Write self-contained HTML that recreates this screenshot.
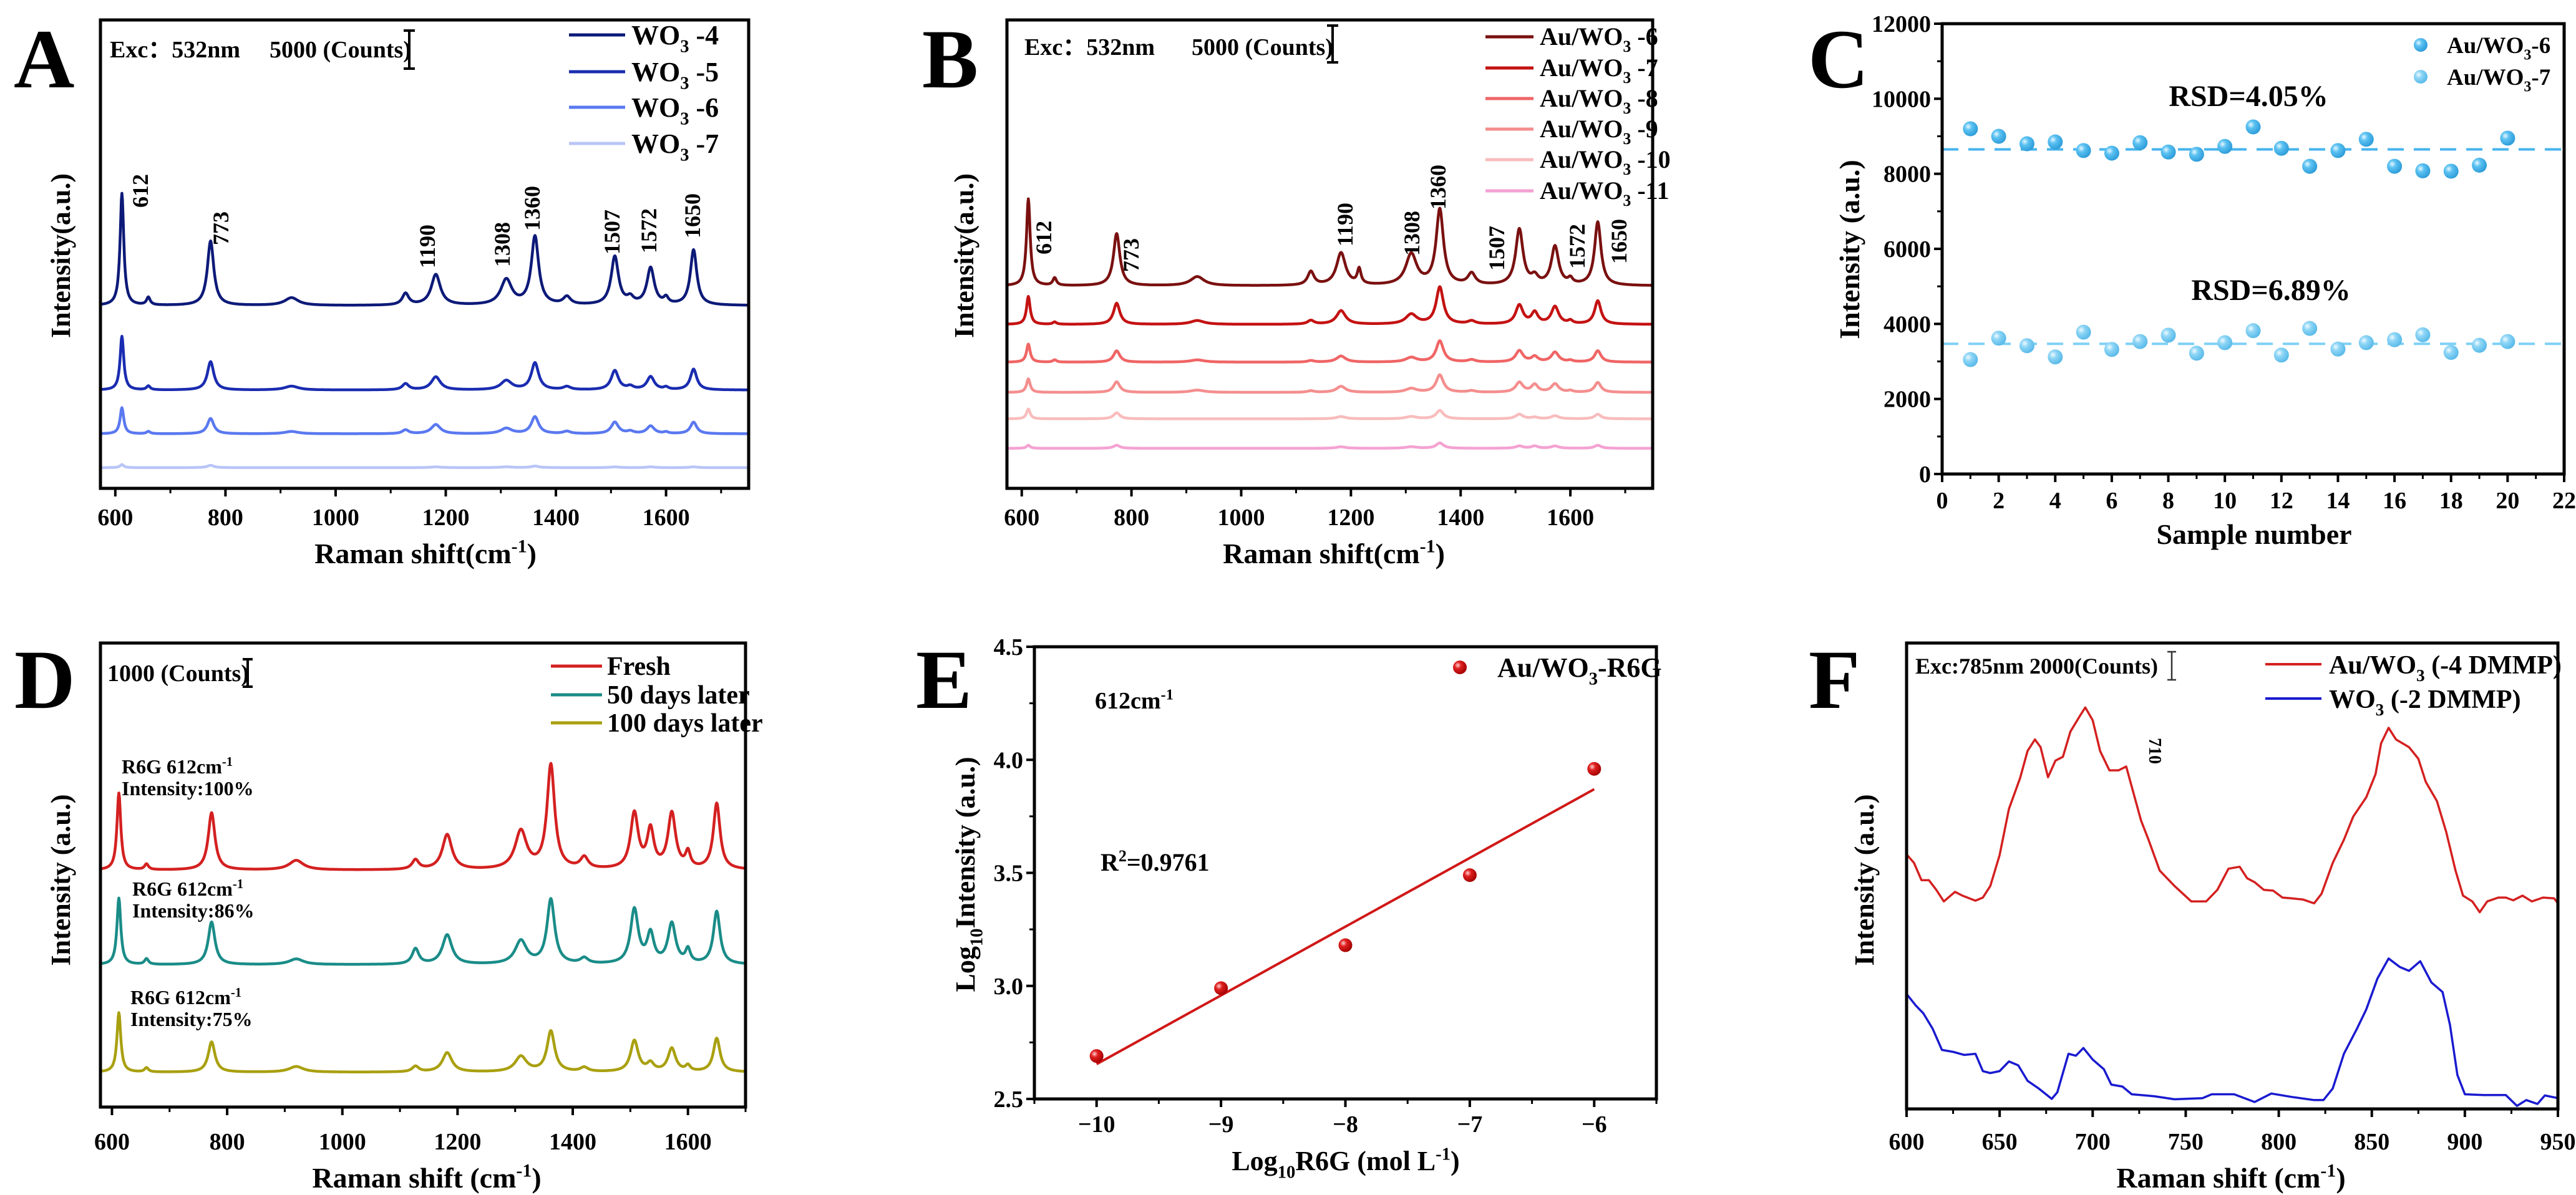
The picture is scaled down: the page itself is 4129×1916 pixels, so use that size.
<!DOCTYPE html>
<html><head><meta charset="utf-8"><style>
html,body{margin:0;padding:0;background:#fff;}
svg{display:block;font-family:"Liberation Serif",serif;font-weight:bold;}
</style></head><body>
<svg id="fig" width="4129" height="1916" viewBox="0 0 4129 1916" xmlns="http://www.w3.org/2000/svg">
<defs>
<radialGradient id="gBlue" cx="0.35" cy="0.35" r="0.7"><stop offset="0" stop-color="#e8f8ff"/><stop offset="0.35" stop-color="#5cc2f2"/><stop offset="1" stop-color="#2a9ad8"/></radialGradient>
<radialGradient id="gBlue2" cx="0.35" cy="0.35" r="0.7"><stop offset="0" stop-color="#f0fbff"/><stop offset="0.35" stop-color="#8fd6f6"/><stop offset="1" stop-color="#55b8e8"/></radialGradient>
<radialGradient id="gRed" cx="0.35" cy="0.35" r="0.7"><stop offset="0" stop-color="#ffd0d0"/><stop offset="0.35" stop-color="#e02020"/><stop offset="1" stop-color="#a00000"/></radialGradient>
</defs>
</svg>
<script>
// ---------- DATA ----------
const peakPos = [612,660,773,920,1127,1182,1215,1310,1362,1420,1507,1535,1572,1600,1650];
const peakWidth = [4,4,7,15,7,10,4,12,8,8,8,7,8,5,7];
// Panel A
const aNames = ['WO3 -4','WO3 -5','WO3 -6','WO3 -7'];
const aBase = [23800,12800,7100,2700];
const aAmp4 = [14600,1000,8400,1000,1500,4000,0,3300,8900,1000,6300,800,4800,800,7200];
const aAmp5 = [7000,500,3700,500,800,1700,0,1200,3500,400,2500,400,1700,300,2700];
const aAmp6 = [3400,300,2000,300,500,1200,0,700,2200,300,1500,300,1000,200,1500];
const aAmp7 = [400,0,300,0,0,100,0,100,200,0,100,0,100,0,100];
// Panel B
const bBase = [26800,21700,16700,12700,9200,5300];
const bAmp6 = [11500,1000,6900,1200,1800,4300,2000,4100,10000,1500,7400,1000,5100,700,8400];
const bAmp7 = [3700,300,2800,500,500,1800,0,1300,4900,400,2500,1500,2300,400,3100];
const bAmp8 = [2400,300,1500,300,200,800,0,600,2800,300,1500,700,1300,200,1500];
const bAmp9 = [1800,0,1400,300,200,800,0,500,2300,200,1300,1000,1100,200,1300];
const bAmp10 = [1300,0,800,0,0,300,0,300,1100,0,600,200,400,0,600];
const bAmp11 = [400,0,400,0,0,200,0,200,700,0,300,300,300,0,400];
// Panel C
const cSamples = [1,2,3,4,5,6,7,8,9,10,11,12,13,14,15,16,17,18,19,20];
const cSeries6 = [9200,9000,8800,8850,8620,8550,8830,8580,8520,8730,9250,8680,8200,8620,8920,8200,8080,8070,8230,8950];
const cSeries7 = [3050,3620,3420,3120,3780,3320,3530,3700,3220,3500,3820,3170,3880,3330,3500,3580,3710,3240,3430,3530];
const cMean = [8650,3470];
// Panel D
const dBase = [8440,5070,1240];
const dFresh = [2740,200,2040,340,340,1250,0,1360,3710,400,1980,1360,1980,550,2350];
const d50 = [2370,200,1520,200,550,1050,0,830,2300,200,1940,1040,1430,480,1880];
const d100 = [2120,150,1080,200,200,690,0,550,1450,150,1110,280,830,200,1200];
// Panel E
const eX = [-10,-9,-8,-7,-6];
const eY = [2.69,2.99,3.18,3.49,3.96];
// Panel F
const fRedX = [600,604,608,612,616,620,626,630,637,641,645,650,655,661,665,669,672,676,680,684,688,693,696,700,704,709,714,718,722,726,730,736,744,753,761,767,773,779,783,787,792,797,802,807,813,819,823,829,835,840,847,852,855,859,863,870,875,879,885,890,895,899,904,908,912,918,922,926,931,936,942,948,950];
const fRedY = [660,638,593,593,568,538,563,553,540,548,578,658,778,858,928,958,938,860,903,913,978,1018,1041,1008,928,878,878,888,818,748,698,618,578,538,538,568,623,628,598,588,568,566,548,546,543,533,558,638,698,758,808,868,948,988,958,938,908,848,798,718,618,553,538,510,538,548,548,541,553,538,548,546,533];
const fBlueX = [600,605,609,614,619,625,631,637,641,645,650,655,660,665,671,678,681,687,691,695,700,706,710,716,721,733,744,759,764,776,787,796,807,819,824,829,835,842,847,853,859,865,870,876,882,888,892,896,900,910,922,928,933,939,943,950];
const fBlueY = [298,268,248,208,153,148,140,143,98,93,98,123,113,73,53,26,43,143,138,158,128,103,63,58,38,33,25,28,38,38,18,40,31,23,23,53,143,208,258,338,390,368,358,383,328,303,218,88,38,36,36,8,23,13,35,28];

// ---------- HELPERS ----------
const NS='http://www.w3.org/2000/svg';
const svg=document.getElementById('fig');
function el(tag, attrs, parent, text){
  const e=document.createElementNS(NS,tag);
  for(const k in attrs) e.setAttribute(k,attrs[k]);
  if(text!=null) e.textContent=text;
  (parent||svg).appendChild(e);
  return e;
}
function rich(parent,x,y,parts,size,anchor,rot){
  const attrs={x:x,y:y,'font-size':size,'text-anchor':anchor||'start'};
  if(rot) attrs.transform='rotate('+rot+' '+x+' '+y+')';
  const t=el('text',attrs,parent);
  let off=0;
  parts.forEach(p=>{
    let target=0, fs=size;
    if(p[1]==='sub'){target=size*0.28;fs=size*0.65;}
    if(p[1]==='sup'){target=-size*0.38;fs=size*0.65;}
    el('tspan',{dy:(target-off),'font-size':fs},t,p[0]);
    off=target;
  });
  return t;
}
function scaleLin(d0,d1,r0,r1){return v=>r0+(v-d0)/(d1-d0)*(r1-r0);}
function lorentz(x,base,amps){
  let y=base;
  for(let i=0;i<peakPos.length;i++){const w=peakWidth[i];y+=amps[i]*w*w/((x-peakPos[i])*(x-peakPos[i])+w*w);}
  return y;
}
function box(g,b){
  const r=el('rect',{x:b.l,y:b.t,width:b.r-b.l,height:b.b-b.t,fill:'none',stroke:'#000','stroke-width':5},g);
  
  
}
function xTicks(g,b,sx,majors,minors,labelY,fmt){
  majors.forEach(v=>{
    const x=sx(v);
    el('line',{x1:x,x2:x,y1:b.b,y2:b.b+13,stroke:'#000','stroke-width':4},g);
    const t=el('text',{x:x,y:labelY,'font-size':38,'text-anchor':'middle'},g,fmt?fmt(v):String(v));
    
    
  });
  minors.forEach(v=>{const x=sx(v);el('line',{x1:x,x2:x,y1:b.b,y2:b.b+8,stroke:'#000','stroke-width':3},g);});
}
function yTicks(g,b,sy,majors,minors,fmt){
  majors.forEach(v=>{
    const y=sy(v);
    el('line',{x1:b.l-13,x2:b.l,y1:y,y2:y,stroke:'#000','stroke-width':4},g);
    const t=el('text',{x:b.l-18,y:y+13,'font-size':38,'text-anchor':'end'},g,fmt?fmt(v):String(v));
    
    
  });
  minors.forEach(v=>{const y=sy(v);el('line',{x1:b.l-8,x2:b.l,y1:y,y2:y,stroke:'#000','stroke-width':3},g);});
}
function pathFrom(xs,ys,sx,sy){
  let d='';
  for(let i=0;i<xs.length;i++){d+=(i?'L':'M')+sx(xs[i]).toFixed(1)+' '+sy(ys[i]).toFixed(1);}
  return d;
}
function specPath(sx,sy,xmin,xmax,base,amps){
  const xs=[],ys=[];
  for(let x=xmin;x<=xmax;x+=1){xs.push(x);ys.push(lorentz(x,base,amps));}
  return pathFrom(xs,ys,sx,sy);
}
function letter(x,y,ch){
  const t=el('text',{x:x,y:y,'font-size':135},svg,ch);
  
  
}
function range(a,b,s){const r=[];for(let v=a;v<=b+1e-9;v+=s)r.push(Math.round(v*100)/100);return r;}

// ---------- PANEL A ----------
(function(){
  const b={l:161,r:1200,t:32,b:783};
  const g=el('g',{});
  
  
  const sx=scaleLin(573,1750,b.l,b.r), sy=scaleLin(0,61000,b.b,b.t);
  const colors=['#0d1a78','#1a2cb0','#5a78f0','#b9c5f6'];
  const amps=[aAmp4,aAmp5,aAmp6,aAmp7];
  amps.forEach((a,i)=>{
    const p=el('path',{d:specPath(sx,sy,575,1748,aBase[i],a),fill:'none',stroke:colors[i],'stroke-width':4.5,'stroke-linejoin':'round'},g);
    
    
  });
  box(g,b);
  xTicks(g,b,sx,range(600,1600,200),range(700,1700,200),842);
  const yt=rich(g,112,410,[['Intensity(a.u.)','n']],44,'middle',-90);
  
  
  const xt=rich(g,682,903,[['Raman shift(cm','n'],['-1','sup'],[')','n']],46,'middle');
  
  
  el('text',{x:176,y:92,'font-size':38},g,'Exc：532nm');
  el('text',{x:432,y:92,'font-size':38},g,'5000 (Counts)');
  el('path',{d:'M656 49V110M647 49H665M647 110H665',stroke:'#000','stroke-width':4,fill:'none'},g);
  const ly=[56,115,172,230];
  aNames.forEach((n,i)=>{
    const ln=el('line',{x1:912,x2:1002,y1:ly[i],y2:ly[i],stroke:colors[i],'stroke-width':5},g);
    
    
    const t=rich(g,1012,ly[i]+15,[['WO','n'],['3','sub'],[' -'+n.split('-')[1],'n']],44,'start');
    
    
  });
  const ann=[['612',237,306],['773',366,366],['1190',697,395],['1308',817,392],['1360',865,334],['1507',993,372],['1572',1052,370],['1650',1122,346]];
  ann.forEach(a=>{const t=el('text',{x:a[1],y:a[2],'font-size':36,'text-anchor':'middle',transform:'rotate(-90 '+a[1]+' '+a[2]+')'},g,a[0]);
    
    });
  letter(22,140,'A');
})();

// ---------- PANEL B ----------
(function(){
  const b={l:1614,r:2649,t:32,b:783};
  const g=el('g',{});
  
  
  const sx=scaleLin(573,1750,b.l,b.r), sy=scaleLin(0,62000,b.b,b.t);
  const colors=['#7a1010','#c41212','#f06565','#f48e8e','#f8bcbc','#f4a2d2'];
  const amps=[bAmp6,bAmp7,bAmp8,bAmp9,bAmp10,bAmp11];
  const names=['-6','-7','-8','-9','-10','-11'];
  amps.forEach((a,i)=>{
    const p=el('path',{d:specPath(sx,sy,575,1748,bBase[i],a),fill:'none',stroke:colors[i],'stroke-width':4.5,'stroke-linejoin':'round'},g);
    
    
  });
  box(g,b);
  xTicks(g,b,sx,range(600,1600,200),range(700,1700,200),842);
  const yt=rich(g,1560,410,[['Intensity(a.u.)','n']],44,'middle',-90);
  
  
  const xt=rich(g,2138,903,[['Raman shift(cm','n'],['-1','sup'],[')','n']],46,'middle');
  
  
  el('text',{x:1642,y:88,'font-size':38},g,'Exc：532nm');
  el('text',{x:1910,y:88,'font-size':38},g,'5000 (Counts)');
  el('path',{d:'M2136 41V100M2127 41H2145M2127 100H2145',stroke:'#000','stroke-width':4,fill:'none'},g);
  const ly=[59,109,158,207,256,306];
  names.forEach((n,i)=>{
    const ln=el('line',{x1:2381,x2:2458,y1:ly[i],y2:ly[i],stroke:colors[i],'stroke-width':5},g);
    
    
    const t=rich(g,2468,ly[i]+13,[['Au/WO','n'],['3','sub'],[' '+n,'n']],40,'start');
    
    
  });
  const ann=[['612',1685,381],['773',1825,409],['1190',2168,360],['1308',2275,374],['1360',2317,300],['1507',2411,398],['1572',2540,395],['1650',2607,387]];
  ann.forEach(a=>{const t=el('text',{x:a[1],y:a[2],'font-size':36,'text-anchor':'middle',transform:'rotate(-90 '+a[1]+' '+a[2]+')'},g,a[0]);
    
    });
  letter(1478,140,'B');
})();

// ---------- PANEL C ----------
(function(){
  const b={l:3113,r:4110,t:38,b:760};
  const g=el('g',{});
  
  
  const sx=scaleLin(0,22,b.l,b.r), sy=scaleLin(0,12000,b.b,b.t);
  cMean.forEach((m,i)=>{
    const l=el('line',{x1:b.l,x2:b.r,y1:sy(m),y2:sy(m),stroke:i?'#7fd0f5':'#45b4ee','stroke-width':4,'stroke-dasharray':'26 16'},g);
    
    
  });
  cSamples.forEach((s,i)=>{
    const c1=el('circle',{cx:sx(s),cy:sy(cSeries6[i]),r:12,fill:'url(#gBlue)'},g);
    
    
    const c2=el('circle',{cx:sx(s),cy:sy(cSeries7[i]),r:12,fill:'url(#gBlue2)'},g);
    
    
  });
  box(g,b);
  xTicks(g,b,sx,range(0,22,2),range(1,21,2),815);
  yTicks(g,b,sy,range(0,12000,2000),range(1000,11000,2000));
  const yt=rich(g,2980,400,[['Intensity (a.u.)','n']],46,'middle',-90);
  
  
  const xt=rich(g,3613,872,[['Sample number','n']],46,'middle');
  
  
  const r1=el('text',{x:3604,y:170,'font-size':48,'text-anchor':'middle'},g,'RSD=4.05%');
  
  
  const r2=el('text',{x:3640,y:481,'font-size':48,'text-anchor':'middle'},g,'RSD=6.89%');
  
  
  [['6','url(#gBlue)',72],['7','url(#gBlue2)',123]].forEach(e=>{
    const c=el('circle',{cx:3880,cy:e[2],r:11,fill:e[1]},g);
    
    
    const t=rich(g,3922,e[2]+13,[['Au/WO','n'],['3','sub'],['-'+e[0],'n']],37,'start');
    
    
  });
  letter(2898,140,'C');
})();

// ---------- PANEL D ----------
(function(){
  const b={l:161,r:1195,t:1031,b:1775};
  const g=el('g',{});
  
  
  const sx=scaleLin(580,1700,b.l,b.r), sy=scaleLin(0,16530,b.b,b.t);
  const colors=['#d42020','#1a8c88','#a9a010'];
  const names=['fresh','50-days','100-days'];
  [dFresh,d50,d100].forEach((a,i)=>{
    const p=el('path',{d:specPath(sx,sy,582,1698,dBase[i],a),fill:'none',stroke:colors[i],'stroke-width':4.5,'stroke-linejoin':'round'},g);
    
    
  });
  box(g,b);
  xTicks(g,b,sx,range(600,1600,200),range(700,1700,200),1843);
  const yt=rich(g,112,1411,[['Intensity (a.u.)','n']],44,'middle',-90);
  
  
  const xt=rich(g,684,1904,[['Raman shift (cm','n'],['-1','sup'],[')','n']],46,'middle');
  
  
  el('text',{x:172,y:1092,'font-size':38},g,'1000 (Counts)');
  el('path',{d:'M397 1057V1101M389 1057H405M389 1101H405',stroke:'#000','stroke-width':4,fill:'none'},g);
  const ly=[1068,1114,1159], lt=['Fresh','50 days later','100 days later'];
  lt.forEach((n,i)=>{
    const ln=el('line',{x1:883,x2:965,y1:ly[i],y2:ly[i],stroke:colors[i],'stroke-width':5},g);
    
    
    const t=el('text',{x:973,y:ly[i]+14,'font-size':42},g,n);
    
    
  });
  [[195,1240,'100%'],[212,1436,'86%'],[209,1610,'75%']].forEach(a=>{
    const t1=rich(g,a[0],a[1],[['R6G 612cm','n'],['-1','sup']],32,'start');
    
    
    const t2=el('text',{x:a[0],y:a[1]+35,'font-size':32},g,'Intensity:'+a[2]);
    
    
  });
  letter(23,1135,'D');
})();

// ---------- PANEL E ----------
(function(){
  const b={l:1658,r:2655,t:1037,b:1762};
  const g=el('g',{});
  
  
  const sx=scaleLin(-10.5,-5.5,b.l,b.r), sy=scaleLin(2.5,4.5,b.b,b.t);
  const n=eX.length, mx=eX.reduce((a,v)=>a+v,0)/n, my=eY.reduce((a,v)=>a+v,0)/n;
  let sxy=0,sxx=0; for(let i=0;i<n;i++){sxy+=(eX[i]-mx)*(eY[i]-my);sxx+=(eX[i]-mx)*(eX[i]-mx);}
  const k=sxy/sxx, c0=my-k*mx;
  const x0=eX[0], x1=eX[n-1];
  const fit=el('line',{x1:sx(x0),y1:sy(k*x0+c0),x2:sx(x1),y2:sy(k*x1+c0),stroke:'#d01818','stroke-width':4},g);
  
  
  eX.forEach((x,i)=>{
    const c=el('circle',{cx:sx(x),cy:sy(eY[i]),r:11,fill:'url(#gRed)'},g);
    
    
  });
  box(g,b);
  xTicks(g,b,sx,[-10,-9,-8,-7,-6],[-10.5,-9.5,-8.5,-7.5,-6.5,-5.5],1815,v=>'\u2212'+Math.abs(v));
  yTicks(g,b,sy,[2.5,3.0,3.5,4.0,4.5],[2.75,3.25,3.75,4.25],v=>v.toFixed(1));
  const yt=rich(g,1562,1402,[['Log','n'],['10','sub'],['Intensity (a.u.)','n']],44,'middle',-90);
  
  
  const xt=rich(g,2157,1876,[['Log','n'],['10','sub'],['R6G (mol L','n'],['-1','sup'],[')','n']],44,'middle');
  
  
  const lm=el('circle',{cx:2340,cy:1070,r:11,fill:'url(#gRed)'},g);
  
  
  const lt=rich(g,2400,1085,[['Au/WO','n'],['3','sub'],['-R6G','n']],44,'start');
  
  
  const w=rich(g,1755,1136,[['612cm','n'],['-1','sup']],38,'start');
  
  
  const r=rich(g,1764,1396,[['R','n'],['2','sup'],['=0.9761','n']],40,'start');
  
  
  letter(1468,1135,'E');
})();

// ---------- PANEL F ----------
(function(){
  const b={l:3056,r:4100,t:1031,b:1778};
  const g=el('g',{});
  
  
  const sx=scaleLin(600,950,b.l,b.r), sy=scaleLin(0,1208,b.b,b.t);
  const pr=el('path',{d:pathFrom(fRedX,fRedY,sx,sy),fill:'none',stroke:'#d42020','stroke-width':3.5,'stroke-linejoin':'round'},g);
  
  
  const pb=el('path',{d:pathFrom(fBlueX,fBlueY,sx,sy),fill:'none',stroke:'#1a1ad0','stroke-width':3.5,'stroke-linejoin':'round'},g);
  
  
  box(g,b);
  xTicks(g,b,sx,range(600,950,50),range(625,925,50),1843);
  const yt=rich(g,3003,1411,[['Intensity (a.u.)','n']],44,'middle',-90);
  
  
  const xt=rich(g,3576,1904,[['Raman shift (cm','n'],['-1','sup'],[')','n']],46,'middle');
  
  
  el('text',{x:3070,y:1080,'font-size':36},g,'Exc:785nm  2000(Counts)');
  el('path',{d:'M3481 1045V1090M3474 1045H3488M3474 1090H3488',stroke:'#333','stroke-width':2.5,fill:'none'},g);
  const lc=['#d42020','#1a1ad0'];
  [[1065,[['Au/WO','n'],['3','sub'],[' (-4 DMMP)','n']]],[1120,[['WO','n'],['3','sub'],[' (-2 DMMP)','n']]]].forEach((e,i)=>{
    const ln=el('line',{x1:3631,x2:3721,y1:e[0],y2:e[0],stroke:lc[i],'stroke-width':4},g);
    
    
    const t=rich(g,3733,e[0]+15,e[1],42,'start');
    
    
  });
  const a=el('text',{x:3445,y:1204,'font-size':28,'text-anchor':'middle',transform:'rotate(90 3445 1204)'},g,'710');
  
  
  letter(2899,1135,'F');
})();
</script>
</body></html>
